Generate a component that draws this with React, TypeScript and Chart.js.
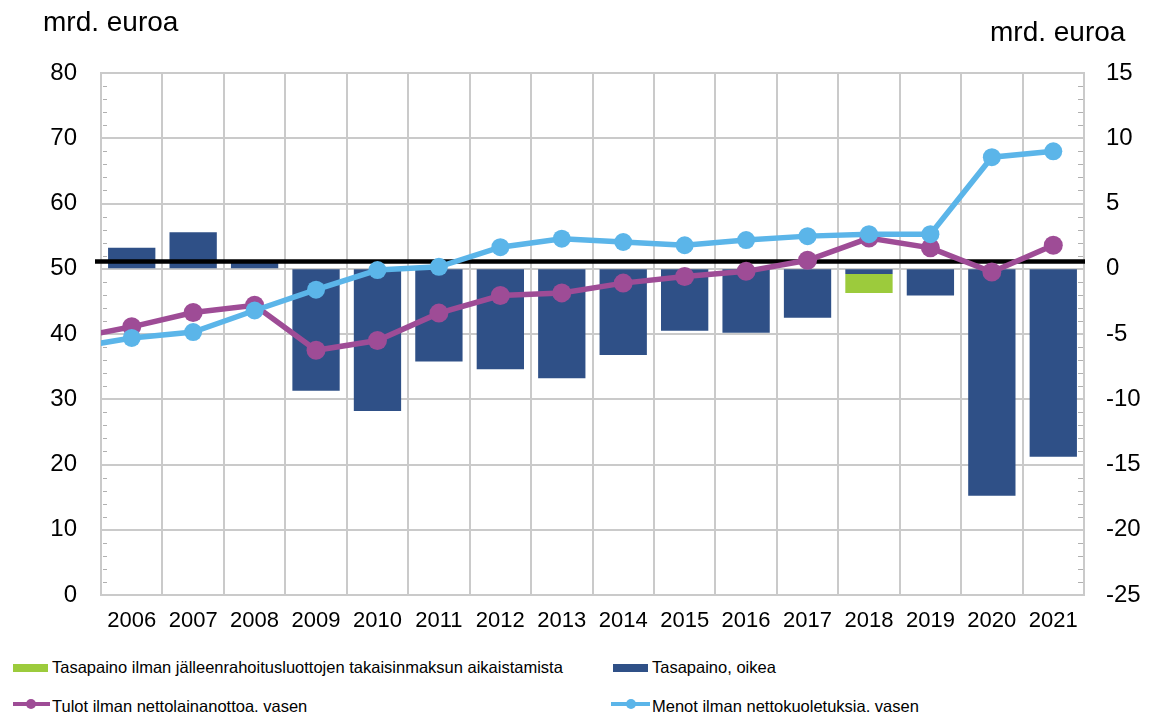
import React, { useEffect, useRef } from "react";
import { Chart, registerables } from "chart.js";

Chart.register(...registerables);

// ---------------- data ----------------
const YEARS = [2006, 2007, 2008, 2009, 2010, 2011, 2012, 2013, 2014, 2015, 2016, 2017, 2018, 2019, 2020, 2021];
// line series start one year earlier (clipped at the left edge of the plot)
const LINE_YEARS = [2005, ...YEARS];

// Tasapaino, oikea (right axis, mrd. euroa)
const BALANCE = [1.6, 2.8, 0.6, -9.35, -10.9, -7.1, -7.7, -8.4, -6.6, -4.75, -4.9, -3.75, -0.4, -2.05, -17.4, -14.4];
// Tasapaino ilman jälleenrahoitusluottojen takaisinmaksun aikaistamista (stacked part)
const BALANCE_EXTRA = [null, null, null, null, null, null, null, null, null, null, null, null, -1.45, null, null, null];
// Tulot ilman nettolainanottoa, vasen
const REVENUE = [39.3, 41.1, 43.3, 44.4, 37.5, 39.0, 43.2, 45.9, 46.3, 47.8, 48.8, 49.6, 51.3, 54.7, 53.2, 49.5, 53.6];
// Menot ilman nettokuoletuksia, vasen
const EXPENDITURE = [37.8, 39.4, 40.3, 43.6, 46.8, 49.8, 50.3, 53.3, 54.6, 54.1, 53.6, 54.4, 55.0, 55.3, 55.3, 67.1, 68.0];

const LEFT_MIN = 0;
const LEFT_MAX = 80;
const LEFT_STEP = 10;
const RIGHT_MIN = -25;
const RIGHT_MAX = 15;
const RIGHT_STEP = 5;
const REF_LINE_VALUE = 0.55; // thick black reference line (right axis)

const UNIT = "mrd. euroa";
const LABEL_GREEN = "Tasapaino ilman jälleenrahoitusluottojen takaisinmaksun aikaistamista";
const LABEL_NAVY = "Tasapaino, oikea";
const LABEL_PURPLE = "Tulot ilman nettolainanottoa, vasen";
const LABEL_SKY = "Menot ilman nettokuoletuksia, vasen";

// ---------------- styles ----------------
const FONT = '"Liberation Sans", Arial, sans-serif';
const NAVY = "#2F5087";
const GREEN = "#9CCB3C";
const PURPLE = "#9E4C96";
const SKY = "#5BB5E9";
const GRID = "#CACACA";

const decorPlugin = {
  id: "decor",
  beforeDatasetsDraw(chart: any) {
    const { ctx, chartArea } = chart;
    const yL = chart.scales.y;
    const yR = chart.scales.y1;
    ctx.save();
    ctx.strokeStyle = "#B0B0B0";
    ctx.lineWidth = 1;
    ctx.beginPath();
    for (let v = LEFT_MIN; v <= LEFT_MAX; v += 2) {
      if (v % LEFT_STEP === 0) continue;
      const py = Math.round(yL.getPixelForValue(v)) + 0.5;
      ctx.moveTo(chartArea.left + 2, py);
      ctx.lineTo(chartArea.left + 6, py);
    }
    for (let v = RIGHT_MIN; v <= RIGHT_MAX; v += 1) {
      if (v % RIGHT_STEP === 0) continue;
      const py = Math.round(yR.getPixelForValue(v)) + 0.5;
      ctx.moveTo(chartArea.right - 6, py);
      ctx.lineTo(chartArea.right - 1, py);
    }
    ctx.stroke();
    ctx.restore();
  },
  afterDatasetDraw(chart: any, args: any) {
    if (args.index !== 0) return;
    const { ctx, chartArea } = chart;
    const py = chart.scales.y1.getPixelForValue(REF_LINE_VALUE);
    ctx.save();
    ctx.strokeStyle = "#000";
    ctx.lineWidth = 4.5;
    ctx.beginPath();
    ctx.moveTo(chartArea.left - 6, py);
    ctx.lineTo(chartArea.right + 1, py);
    ctx.stroke();
    ctx.restore();
  },
};

export default function App() {
  const ref = useRef<HTMLCanvasElement>(null);

  useEffect(() => {
    if (!ref.current) return;
    Chart.defaults.font.family = FONT;
    Chart.defaults.color = "#000";
    const chart = new Chart(ref.current, {
      type: "bar",
      data: {
        datasets: [
          {
            type: "bar",
            label: LABEL_NAVY,
            data: YEARS.map((x, i) => ({ x, y: BALANCE[i] })),
            backgroundColor: NAVY,
            yAxisID: "y1",
            stack: "bal",
            order: 2,
            categoryPercentage: 1,
            barPercentage: 0.77,
          },
          {
            type: "bar",
            label: LABEL_GREEN,
            data: YEARS.map((x, i) => ({ x, y: BALANCE_EXTRA[i] })),
            backgroundColor: GREEN,
            yAxisID: "y1",
            stack: "bal",
            order: 2,
            categoryPercentage: 1,
            barPercentage: 0.77,
          },
          {
            type: "line",
            label: LABEL_PURPLE,
            data: LINE_YEARS.map((x, i) => ({ x, y: REVENUE[i] })),
            borderColor: PURPLE,
            backgroundColor: PURPLE,
            pointBackgroundColor: PURPLE,
            borderWidth: 5.5,
            pointRadius: 9.5,
            pointBorderWidth: 0,
            tension: 0,
            yAxisID: "y",
            order: 1,
            clip: { left: 0, right: 20, top: 20, bottom: 20 },
          },
          {
            type: "line",
            label: LABEL_SKY,
            data: LINE_YEARS.map((x, i) => ({ x, y: EXPENDITURE[i] })),
            borderColor: SKY,
            backgroundColor: SKY,
            pointBackgroundColor: SKY,
            borderWidth: 5.5,
            pointRadius: 9,
            pointBorderWidth: 0,
            tension: 0,
            yAxisID: "y",
            order: 0,
            clip: { left: 0, right: 20, top: 20, bottom: 20 },
          },
        ],
      } as any,
      options: {
        responsive: false,
        animation: false,
        events: [],
        layout: { padding: { top: 73, left: 0, right: 0, bottom: 0 } },
        plugins: { legend: { display: false }, tooltip: { enabled: false } },
        scales: {
          x: {
            type: "linear",
            min: YEARS[0] - 0.5,
            max: YEARS[YEARS.length - 1] + 0.5,
            offset: false,
            afterBuildTicks: (scale: any) => {
              scale.ticks = YEARS.map((v) => ({ value: v }));
            },
            afterFit: (scale: any) => {
              scale.height = 55;
            },
            grid: { offset: true, color: GRID, lineWidth: 2, drawTicks: false },
            border: { display: true, color: GRID, width: 2 },
            ticks: {
              autoSkip: false,
              maxRotation: 0,
              padding: 13,
              font: { size: 22 },
              color: "#000",
              callback: (v: any) => String(v),
            },
          },
          y: {
            type: "linear",
            position: "left",
            min: LEFT_MIN,
            max: LEFT_MAX,
            afterFit: (scale: any) => {
              scale.width = 101;
            },
            grid: { color: GRID, lineWidth: 2, drawTicks: false },
            border: { display: true, color: GRID, width: 2 },
            ticks: { stepSize: LEFT_STEP, padding: 24, font: { size: 24 }, color: "#000" },
          },
          y1: {
            type: "linear",
            position: "right",
            min: RIGHT_MIN,
            max: RIGHT_MAX,
            afterFit: (scale: any) => {
              scale.width = 66;
            },
            grid: { drawOnChartArea: false, drawTicks: false },
            border: { display: true, color: GRID, width: 2 },
            ticks: { stepSize: RIGHT_STEP, padding: 22, font: { size: 24 }, color: "#000" },
          },
        },
      } as any,
      plugins: [decorPlugin],
    });
    return () => chart.destroy();
  }, []);

  const text: React.CSSProperties = {
    position: "absolute",
    fontSize: 16.5,
    lineHeight: "17px",
    whiteSpace: "nowrap",
    color: "#000",
  };

  return (
    <div
      style={{
        position: "fixed",
        left: 0,
        top: 0,
        width: 1150,
        height: 712,
        background: "#fff",
        overflow: "hidden",
        fontFamily: FONT,
      }}
    >
      <canvas ref={ref} width={1150} height={650} style={{ position: "absolute", left: 0, top: 0 }} />
      <div style={{ position: "absolute", left: 43, top: 8, fontSize: 28, lineHeight: "28px", whiteSpace: "nowrap" }}>{UNIT}</div>
      <div style={{ position: "absolute", left: 990, top: 18, fontSize: 28, lineHeight: "28px", whiteSpace: "nowrap" }}>{UNIT}</div>

      {/* legend row 1 */}
      <div style={{ position: "absolute", left: 13, top: 664, width: 35, height: 8, background: GREEN }} />
      <div style={{ ...text, left: 52, top: 659 }}>{LABEL_GREEN}</div>
      <div style={{ position: "absolute", left: 613, top: 664, width: 35, height: 8, background: NAVY }} />
      <div style={{ ...text, left: 652, top: 659 }}>{LABEL_NAVY}</div>

      {/* legend row 2 */}
      <div style={{ position: "absolute", left: 13, top: 702, width: 37, height: 4, background: PURPLE }} />
      <div style={{ position: "absolute", left: 26, top: 699, width: 10, height: 10, borderRadius: "50%", background: PURPLE }} />
      <div style={{ ...text, left: 52, top: 698 }}>{LABEL_PURPLE}</div>
      <div style={{ position: "absolute", left: 611, top: 702, width: 39, height: 4, background: SKY }} />
      <div style={{ position: "absolute", left: 626, top: 699, width: 10, height: 10, borderRadius: "50%", background: SKY }} />
      <div style={{ ...text, left: 652, top: 698 }}>{LABEL_SKY}</div>
    </div>
  );
}
